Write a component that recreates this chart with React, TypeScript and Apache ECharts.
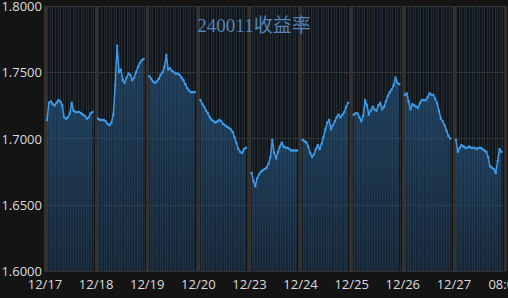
import React, { useEffect, useRef } from "react";
import * as echarts from "echarts";

const titleText = "240011收益率";
const dayLabels = ["12/17", "12/18", "12/19", "12/20", "12/23", "12/24", "12/25", "12/26", "12/27", "08:00"];
const yTicks = [1.6, 1.65, 1.7, 1.75, 1.8];

const day1 = [1.714, 1.727, 1.728, 1.726, 1.725, 1.727, 1.729, 1.728, 1.725, 1.716, 1.715, 1.716, 1.719, 1.727, 1.721, 1.72, 1.72, 1.72, 1.719, 1.718, 1.717, 1.715, 1.716, 1.719, 1.72];
const day2 = [1.715, 1.714, 1.714, 1.714, 1.713, 1.711, 1.71, 1.712, 1.718, 1.74, 1.77, 1.75, 1.752, 1.744, 1.742, 1.746, 1.749, 1.748, 1.744, 1.746, 1.75, 1.754, 1.757, 1.759, 1.76];
const day3 = [1.747, 1.745, 1.743, 1.742, 1.743, 1.745, 1.748, 1.75, 1.754, 1.763, 1.752, 1.753, 1.751, 1.75, 1.749, 1.749, 1.748, 1.746, 1.744, 1.741, 1.738, 1.736, 1.735, 1.735, 1.735];
const day4 = [1.729, 1.726, 1.724, 1.721, 1.719, 1.716, 1.714, 1.713, 1.712, 1.713, 1.714, 1.713, 1.711, 1.71, 1.709, 1.708, 1.707, 1.705, 1.701, 1.697, 1.692, 1.69, 1.689, 1.692, 1.693];
const day5 = [1.674, 1.668, 1.664, 1.67, 1.673, 1.675, 1.676, 1.677, 1.678, 1.681, 1.686, 1.699, 1.689, 1.685, 1.69, 1.694, 1.697, 1.694, 1.693, 1.693, 1.692, 1.691, 1.691, 1.691, 1.691];
const day6 = [1.699, 1.698, 1.697, 1.694, 1.689, 1.686, 1.688, 1.692, 1.695, 1.692, 1.696, 1.701, 1.707, 1.712, 1.714, 1.707, 1.71, 1.713, 1.716, 1.718, 1.716, 1.718, 1.72, 1.724, 1.727];
const day7 = [1.718, 1.719, 1.719, 1.716, 1.713, 1.717, 1.729, 1.725, 1.718, 1.721, 1.724, 1.722, 1.721, 1.725, 1.727, 1.722, 1.724, 1.728, 1.732, 1.735, 1.737, 1.74, 1.746, 1.742, 1.741];
const day8 = [1.733, 1.734, 1.728, 1.722, 1.726, 1.725, 1.724, 1.723, 1.727, 1.729, 1.729, 1.729, 1.731, 1.734, 1.733, 1.733, 1.73, 1.727, 1.721, 1.715, 1.713, 1.71, 1.706, 1.702, 1.7];
const day9 = [1.699, 1.69, 1.693, 1.695, 1.694, 1.693, 1.693, 1.694, 1.693, 1.693, 1.693, 1.692, 1.693, 1.693, 1.692, 1.691, 1.69, 1.686, 1.679, 1.678, 1.677, 1.674, 1.683, 1.692, 1.69];

const days = [day1, day2, day3, day4, day5, day6, day7, day8, day9];

export default function App() {
  const ref = useRef<HTMLDivElement>(null);
  useEffect(() => {
    if (!ref.current) return;
    const chart = echarts.init(ref.current, undefined, { renderer: "svg" });
    const series = days.map((vals, d) => ({
      type: "line",
      data: vals.map((v, i) => [d + 0.04 + (i / (vals.length - 1)) * 0.89, v]),
      showSymbol: true,
      symbol: "circle",
      symbolSize: 2.5,
      itemStyle: { color: "#3d9be9" },
      lineStyle: { color: "#3d9be9", width: 1.5 },
      areaStyle: {
        origin: "start",
        color: new echarts.graphic.LinearGradient(0, 0, 0, 1, [
          { offset: 0, color: "rgba(38,92,140,0.8)" },
          { offset: 1, color: "rgba(28,58,88,0.6)" },
        ]),
      },
      silent: true,
    }));
    chart.setOption({
      animation: false,
      backgroundColor: "#141414",
      title: {
        text: titleText,
        left: "center",
        top: 11,
        textStyle: {
          color: "#5584b8",
          fontSize: 19,
          fontWeight: "normal",
          fontFamily: "'Liberation Serif', 'DejaVu Serif', 'Noto Sans CJK SC', serif",
        },
      },
      grid: {
        left: 45,
        right: 3,
        top: 6,
        bottom: 27,
        show: true,
        backgroundColor: "#131619",
        borderWidth: 0,
        outerBoundsMode: "none",
        containLabel: false,
      },
      xAxis: {
        type: "value",
        min: 0,
        max: dayLabels.length - 1,
        interval: 1,
        axisLine: { show: false },
        axisTick: { show: false },
        axisLabel: {
          color: "#dcdcdc",
          fontSize: 13,
          fontFamily: "'Open Sans', 'Noto Sans', sans-serif",
          margin: 6,
          formatter: (v: number) => dayLabels[Math.round(v)] ?? "",
        },
        splitLine: { show: true, lineStyle: { color: "#36312c", width: 3 } },
        minorTick: { show: false, splitNumber: 20 },
        minorSplitLine: { show: true, lineStyle: { color: "rgba(70,100,130,0.28)", width: 1 } },
      },
      yAxis: {
        type: "value",
        min: yTicks[0],
        max: yTicks[yTicks.length - 1],
        interval: 0.05,
        axisLine: { show: false },
        axisTick: { show: false },
        axisLabel: {
          color: "#dcdcdc",
          fontSize: 13,
          fontFamily: "'Open Sans', 'Noto Sans', sans-serif",
          margin: 3,
          formatter: (v: number) => v.toFixed(4),
        },
        splitLine: { show: true, lineStyle: { color: "#303030", width: 1 } },
      },
      series,
    });
    return () => chart.dispose();
  }, []);
  return (
    <div
      ref={ref}
      style={{ position: "fixed", left: 0, top: 0, width: 508, height: 298 }}
    />
  );
}
